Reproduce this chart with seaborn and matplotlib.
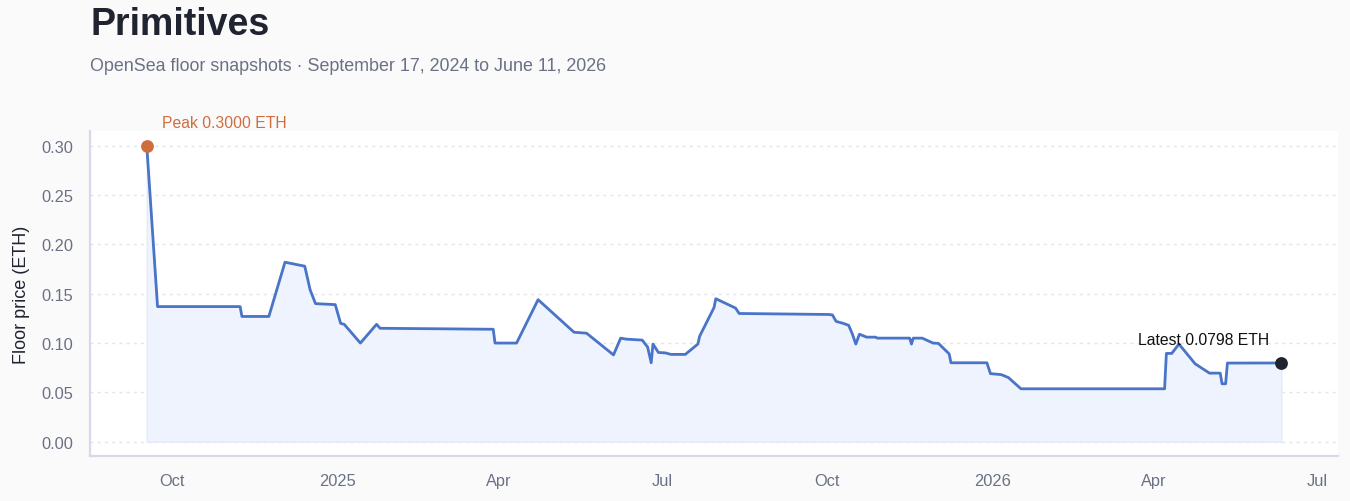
import matplotlib
matplotlib.use("Agg")
import matplotlib.pyplot as plt
import seaborn as sns
import pandas as pd

# ---- data ----
dates = [
    "2024-09-17", "2024-09-23", "2024-11-08", "2024-11-09", "2024-11-24",
    "2024-12-03", "2024-12-14", "2024-12-17", "2024-12-20", "2024-12-31",
    "2025-01-03", "2025-01-05", "2025-01-14", "2025-01-23", "2025-01-25",
    "2025-03-29", "2025-03-30", "2025-04-11", "2025-04-23", "2025-05-13",
    "2025-05-20", "2025-06-04", "2025-06-08", "2025-06-11", "2025-06-20",
    "2025-06-23", "2025-06-25", "2025-06-26", "2025-06-29", "2025-07-03",
    "2025-07-06", "2025-07-14", "2025-07-21", "2025-07-22", "2025-07-30",
    "2025-07-31", "2025-08-11", "2025-08-13", "2025-10-02", "2025-10-04",
    "2025-10-06", "2025-10-10", "2025-10-13", "2025-10-15", "2025-10-17",
    "2025-10-19", "2025-10-23", "2025-10-28", "2025-10-29", "2025-11-16",
    "2025-11-17", "2025-11-18", "2025-11-23", "2025-11-29", "2025-12-02",
    "2025-12-08", "2025-12-09", "2025-12-29", "2025-12-31", "2026-01-06",
    "2026-01-10", "2026-01-17", "2026-04-07", "2026-04-08", "2026-04-11",
    "2026-04-15", "2026-04-24", "2026-05-02", "2026-05-08", "2026-05-09",
    "2026-05-11", "2026-05-12", "2026-06-11",
]
floor_eth = [
    0.300, 0.137, 0.137, 0.127, 0.127,
    0.182, 0.178, 0.154, 0.140, 0.139,
    0.120, 0.119, 0.100, 0.119, 0.115,
    0.114, 0.100, 0.100, 0.144, 0.111,
    0.110, 0.088, 0.105, 0.104, 0.103,
    0.096, 0.080, 0.099, 0.0905, 0.090,
    0.0885, 0.0885, 0.099, 0.107, 0.136,
    0.145, 0.1355, 0.130, 0.129, 0.1285,
    0.122, 0.120, 0.118, 0.1095, 0.099,
    0.109, 0.106, 0.106, 0.105, 0.105,
    0.099, 0.105, 0.105, 0.100, 0.0997,
    0.089, 0.080, 0.080, 0.069, 0.068,
    0.065, 0.0536, 0.0536, 0.0895, 0.0895,
    0.099, 0.079, 0.0695, 0.0695, 0.0587,
    0.0587, 0.0797, 0.0798,
]
tick_dates = ["2024-10-01", "2025-01-01", "2025-04-01", "2025-07-01",
              "2025-10-01", "2026-01-01", "2026-04-01", "2026-07-01"]
tick_labels = ["Oct", "2025", "Apr", "Jul", "Oct", "2026", "Apr", "Jul"]
y_ticks = [0.00, 0.05, 0.10, 0.15, 0.20, 0.25, 0.30]
title = "Primitives"
subtitle = "OpenSea floor snapshots \u00b7 September 17, 2024 to June 11, 2026"
peak_label = "Peak 0.3000 ETH"
latest_label = "Latest 0.0798 ETH"

df = pd.DataFrame({"date": pd.to_datetime(dates), "floor": floor_eth})

# ---- style ----
sns.set_theme(style="white")
plt.rcParams["font.family"] = ["Liberation Sans", "DejaVu Sans"]

BG = "#fafafa"
LINE = "#4a74c8"
FILL = "#eef3fd"
SPINE = "#d6d9e8"
TICK = "#6b7185"
DARK = "#1f2430"
PEAK = "#cf6d3f"

fig = plt.figure(figsize=(13.5, 5.02), dpi=100, facecolor=BG)
ax = fig.add_axes([0.0667, 0.0888, 0.9244, 0.648])
ax.set_facecolor("white")

ax.fill_between(df["date"], df["floor"], 0, facecolor=FILL, edgecolor="#e3eafa",
                linewidth=1.0, zorder=1)
sns.lineplot(data=df, x="date", y="floor", ax=ax, color=LINE, linewidth=2.0, zorder=3)

# peak and latest markers
ipk = df["floor"].idxmax()
ax.scatter([df["date"][ipk]], [df["floor"][ipk]], s=85, color=PEAK, zorder=5, linewidths=0)
ax.scatter([df["date"].iloc[-1]], [df["floor"].iloc[-1]], s=85, color=DARK, zorder=5, linewidths=0)
ax.annotate(peak_label, (df["date"][ipk], df["floor"][ipk]), xytext=(11, 17),
            textcoords="offset points", ha="left", va="center", fontsize=11.3, color=PEAK)
ax.annotate(latest_label, (df["date"].iloc[-1], df["floor"].iloc[-1]), xytext=(-8.5, 17),
            textcoords="offset points", ha="right", va="center", fontsize=11.3, color="#111111")

ax.margins(x=0.05, y=0.05)
ax.set_yticks(y_ticks)
ax.yaxis.set_major_formatter(matplotlib.ticker.FormatStrFormatter("%.2f"))
ax.set_xticks(pd.to_datetime(tick_dates))
ax.set_xticklabels(tick_labels)
ax.tick_params(axis="both", length=0, labelsize=11.8, labelcolor=TICK)
ax.tick_params(axis="y", pad=12)
ax.tick_params(axis="x", pad=12)

ax.grid(axis="y", color="#e3e5ec", linestyle=(0, (2.2, 3)), linewidth=1.0)
ax.set_axisbelow(True)
ax.set_xlabel("")
ax.set_ylabel("Floor price (ETH)", fontsize=13, color=DARK, labelpad=8)

for s in ["top", "right"]:
    ax.spines[s].set_visible(False)
for s in ["left", "bottom"]:
    ax.spines[s].set_color(SPINE)
    ax.spines[s].set_linewidth(1.6)

fig.text(0.0667, 1 - 25 / 502, title, fontsize=27, fontweight="bold", color=DARK,
         ha="left", va="center")
fig.text(0.0667, 1 - 66.5 / 502, subtitle, fontsize=12.9, color=TICK, ha="left", va="center")

fig.savefig("out.png", dpi=100, facecolor=BG)
